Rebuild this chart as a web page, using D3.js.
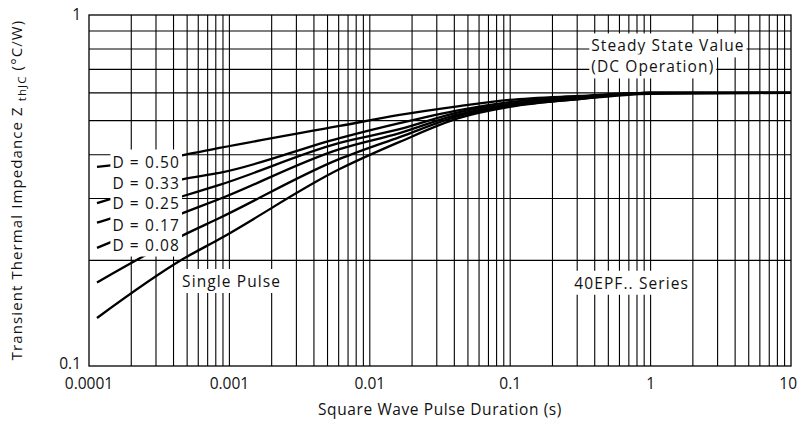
<!DOCTYPE html>
<html>
<head>
<meta charset="utf-8">
<script src="https://cdn.jsdelivr.net/npm/d3@7"></script>
<style>
  body { margin: 0; background: #fff; }
  text { font-family: "Open Sans", "DejaVu Sans", sans-serif; fill: #111; }
</style>
</head>
<body>
<svg id="chart" width="802" height="430"></svg>
<script>
// pulse durations (s) where the curves were read
var pulse = [1.14e-4, 4.7e-4, 8.5e-4, 6.1e-3, 0.0163, 0.0435, 0.099, 0.31, 0.98, 10];

// Zth values per duty cycle
var d050 = [0.369, 0.399, 0.418, 0.483, 0.519, 0.550, 0.573, 0.588, 0.600, 0.600];
var d033 = [0.291, 0.341, 0.355, 0.446, 0.492, 0.536, 0.565, 0.584, 0.600, 0.600];
var d025 = [0.256, 0.305, 0.328, 0.432, 0.473, 0.529, 0.558, 0.580, 0.600, 0.600];
var d017 = [0.217, 0.273, 0.299, 0.415, 0.461, 0.522, 0.554, 0.580, 0.600, 0.600];
var d008 = [0.173, 0.236, 0.264, 0.389, 0.449, 0.516, 0.550, 0.576, 0.600, 0.600];
var single = [0.137, 0.202, 0.230, 0.364, 0.435, 0.509, 0.547, 0.576, 0.596, 0.600];

var series = [d050, d033, d025, d017, d008, single];

var xTicks = [0.0001, 0.001, 0.01, 0.1, 1, 10];
var xTickLabels = ["0.0001", "0.001", "0.01", "0.1", "1", "10"];
var yTicks = [0.1, 1];
var yTickLabels = ["0.1", "1"];

// D labels (right aligned), [t, z]
var dLabels = ["D = 0.50", "D = 0.33", "D = 0.25", "D = 0.17", "D = 0.08"];
var dLabelZ = [0.381, 0.332, 0.291, 0.252, 0.221];
var dLabelT = 4.45e-4;

var notes = [
  {text: "Single Pulse", t: 4.6e-4, z: 0.174},
  {text: "40EPF.. Series", t: 0.286, z: 0.172},
  {text: "Steady State Value", t: 0.378, z: 0.816},
  {text: "(DC Operation)", t: 0.378, z: 0.711}
];

var margin = {left: 89, right: 11, top: 15, bottom: 64};
var W = 802, H = 430;
var fs = 15.5, ls = 1.1;

var svg = d3.select("#chart");

var x = d3.scaleLog().domain([0.0001, 10]).range([margin.left, W - margin.right]);
var y = d3.scaleLog().domain([0.1, 1]).range([H - margin.bottom, margin.top]);

// grid: every 1..9 per decade
var xGrid = [];
for (var e = -4; e < 1; e++) {
  for (var m = 2; m <= 9; m++) xGrid.push(m * Math.pow(10, e));
}
xGrid = xGrid.concat([0.001, 0.01, 0.1, 1]);
var yGrid = [];
for (var m = 2; m <= 9; m++) yGrid.push(m / 10);

var grid = svg.append("g").attr("stroke", "#000").attr("stroke-width", 1.1);
grid.selectAll(".vx").data(xGrid).join("line")
  .attr("x1", d => x(d)).attr("x2", d => x(d))
  .attr("y1", y(0.1)).attr("y2", y(1));
grid.selectAll(".hy").data(yGrid).join("line")
  .attr("x1", x(0.0001)).attr("x2", x(10))
  .attr("y1", d => y(d)).attr("y2", d => y(d));

svg.append("rect")
  .attr("x", x(0.0001)).attr("y", y(1))
  .attr("width", x(10) - x(0.0001)).attr("height", y(0.1) - y(1))
  .attr("fill", "none").attr("stroke", "#000").attr("stroke-width", 1.3);

// curves
var line = d3.line()
  .x((d, i) => x(pulse[i]))
  .y(d => y(d))
  .curve(d3.curveMonotoneX);

svg.append("g").selectAll("path").data(series).join("path")
  .attr("d", line)
  .attr("fill", "none")
  .attr("stroke", "#000")
  .attr("stroke-width", 2.3)
  .attr("stroke-linejoin", "round");

// axes labels
svg.append("g").selectAll("text").data(xTicks).join("text")
  .attr("x", d => x(d))
  .attr("y", y(0.1) + 23)
  .attr("text-anchor", (d, i) => i == xTicks.length - 1 ? "end" : "middle")
  .attr("dx", (d, i) => i == xTicks.length - 1 ? 6 : 0)
  .attr("font-size", fs)
  .text((d, i) => xTickLabels[i]);

svg.append("g").selectAll("text").data(yTicks).join("text")
  .attr("x", x(0.0001) - 8)
  .attr("y", d => y(d))
  .attr("dy", (d, i) => i == 0 ? "0.2em" : "0.35em")
  .attr("text-anchor", "end")
  .attr("font-size", fs)
  .text((d, i) => yTickLabels[i]);

svg.append("text")
  .attr("x", (x(0.0001) + x(10)) / 2)
  .attr("y", 415)
  .attr("text-anchor", "middle")
  .attr("font-size", fs)
  .attr("letter-spacing", 0.6)
  .text("Square Wave Pulse Duration (s)");

var yt = svg.append("text")
  .attr("transform", "translate(22," + 190 + ") rotate(-90)")
  .attr("text-anchor", "middle")
  .attr("font-size", 15)
  .attr("letter-spacing", 1.1);
yt.append("tspan").text("Transient Thermal Impedance Z ");
yt.append("tspan").attr("font-size", 11.5).attr("dy", 4).text("thJC");
yt.append("tspan").attr("dy", -4).text(" (°C/W)");

// labels with white boxes
function boxedText(g, txt, px, py, anchor) {
  var t = g.append("text")
    .attr("x", px).attr("y", py).attr("dy", "0.35em")
    .attr("text-anchor", anchor)
    .attr("font-size", fs)
    .attr("letter-spacing", ls)
    .text(txt);
  var b = t.node().getBBox();
  g.insert("rect", "text")
    .attr("x", b.x - 2).attr("y", b.y - 1)
    .attr("width", b.width + 4).attr("height", b.height + 2)
    .attr("fill", "#fff");
  return t;
}

var lab = svg.append("g");
dLabels.forEach(function (s, i) {
  var g = lab.append("g");
  boxedText(g, s, x(dLabelT), y(dLabelZ[i]), "end");
});
notes.forEach(function (n) {
  var g = lab.append("g");
  boxedText(g, n.text, x(n.t), y(n.z), "start");
});
</script>
</body>
</html>
